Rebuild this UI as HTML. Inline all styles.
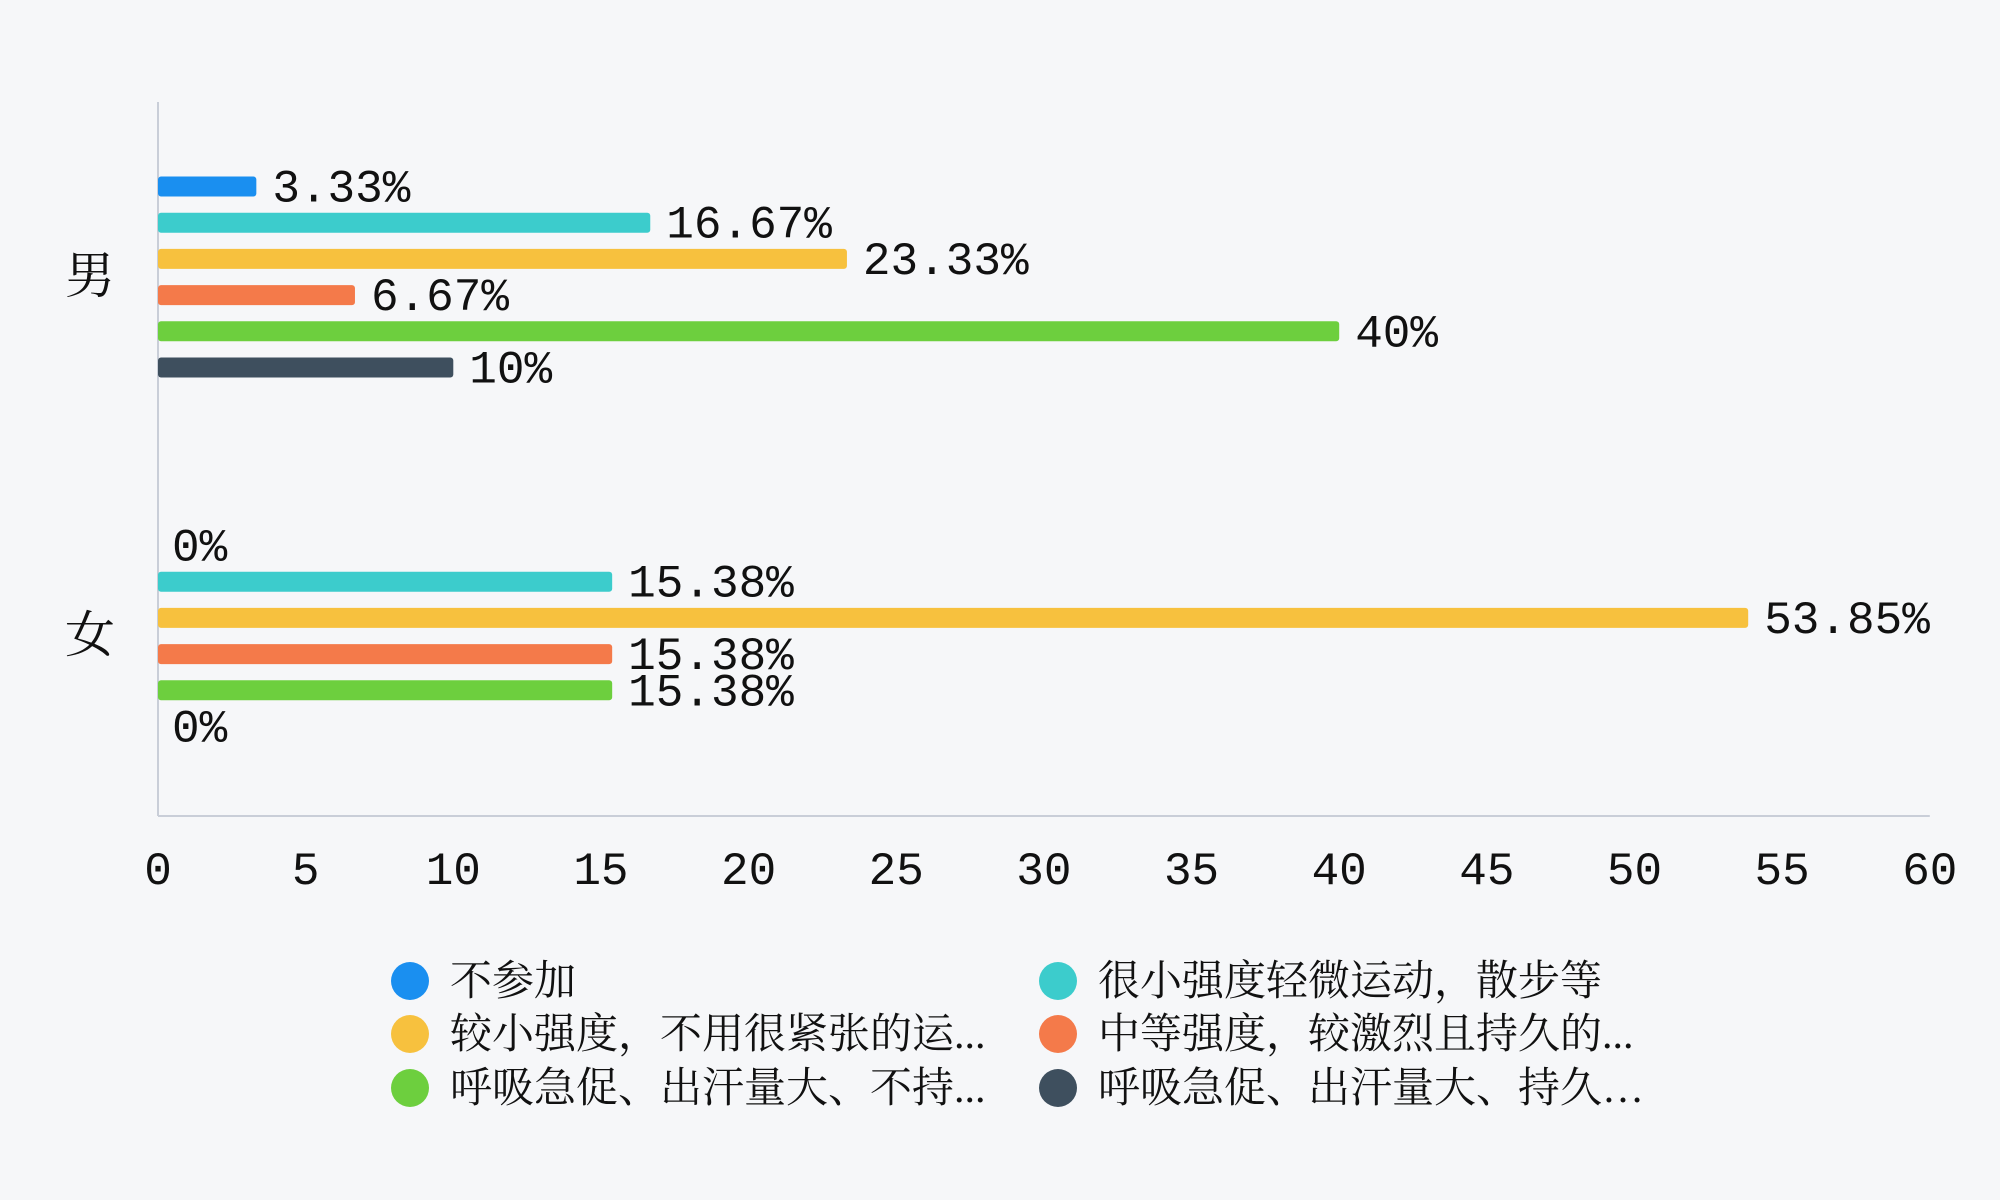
<!DOCTYPE html>
<html><head><meta charset="utf-8"><style>
html,body{margin:0;padding:0;background:#f6f7f9;}
svg{display:block;}
</style></head><body>
<svg id="chart" width="2000" height="1200" viewBox="0 0 2000 1200" xmlns="http://www.w3.org/2000/svg">
<rect width="2000" height="1200" fill="#f6f7f9"/>
<g id="plot"></g>
<g id="legend"></g>
</svg>
<script>
const categories = ["男", "女"];
const seriesNames = ["不参加", "很小强度轻微运动，散步等", "较小强度，不用很紧张的运...", "中等强度，较激烈且持久的...", "呼吸急促、出汗量大、不持...", "呼吸急促、出汗量大、持久…"];
const maleValues = [3.33, 16.67, 23.33, 6.67, 40, 10];
const femaleValues = [0, 15.38, 53.85, 15.38, 15.38, 0];
const valueLabelsMale = ["3.33%", "16.67%", "23.33%", "6.67%", "40%", "10%"];
const valueLabelsFemale = ["0%", "15.38%", "53.85%", "15.38%", "15.38%", "0%"];
const xTicks = [0, 5, 10, 15, 20, 25, 30, 35, 40, 45, 50, 55, 60];
const colors = ["#1a8ff0", "#3ccccc", "#f7c13e", "#f47a4a", "#6dcf3e", "#3e4f5e"];

const NS = "http://www.w3.org/2000/svg";
const X0 = 158, XPER = 29.53, AXIS_Y = 816, AXIS_TOP = 102;
const groupCenters = [277, 636];
const barStep = 36.2, barH = 20;
const xs = v => X0 + v * XPER;
const plot = document.getElementById("plot");
const legend = document.getElementById("legend");
function mk(tag, attrs, parent) {
  const e = document.createElementNS(NS, tag);
  for (const k in attrs) e.setAttribute(k, attrs[k]);
  parent.appendChild(e);
  return e;
}
const yAxis = mk("line", {x1: X0, x2: X0, y1: AXIS_TOP, y2: AXIS_Y, stroke: "#c9ced8", "stroke-width": 2}, plot);


const xAxis = mk("line", {x1: X0, x2: xs(60), y1: AXIS_Y, y2: AXIS_Y, stroke: "#c9ced8", "stroke-width": 2}, plot);



xTicks.forEach(t => {
  const tx = mk("text", {x: xs(t), y: 884, "text-anchor": "middle", "font-family": "Liberation Mono, monospace", "font-size": 46, fill: "#111"}, plot);
  tx.textContent = t;
  
  
});

const allValues = [maleValues, femaleValues];
const allLabels = [valueLabelsMale, valueLabelsFemale];
categories.forEach((c, gi) => {
  const gc = groupCenters[gi];
  const cl = mk("text", {x: 90, y: gc + 16, "text-anchor": "middle", "font-family": "Noto Serif CJK SC, serif", "font-size": 50, fill: "#111"}, plot);
  cl.textContent = c;
  
  
  allValues[gi].forEach((v, si) => {
    const cy = gc + (si - 2.5) * barStep;
    if (v > 0) {
      const r = mk("rect", {x: X0, y: cy - barH / 2, width: xs(v) - X0, height: barH, rx: 3, fill: colors[si]}, plot);
      
      
    }
    const lbl = mk("text", {x: xs(v) + (v > 0 ? 16 : 14), y: cy + 15, "font-family": "Liberation Mono, monospace", "font-size": 46, fill: "#111"}, plot);
    lbl.textContent = allLabels[gi][si];
    
    
  });
});

const legX = [410, 1058], legY = [981, 1034, 1088];
seriesNames.forEach((n, i) => {
  const col = i % 2, row = Math.floor(i / 2);
  const g = mk("g", {}, legend);
  
  
  mk("circle", {cx: legX[col], cy: legY[row], r: 19, fill: colors[i]}, g);
  const t = mk("text", {x: legX[col] + 40, y: legY[row] + 14, "font-family": "Liberation Serif, Noto Serif CJK SC, serif", "font-size": 42, fill: "#111"}, g);
  t.textContent = n;
});
</script>
</body></html>
